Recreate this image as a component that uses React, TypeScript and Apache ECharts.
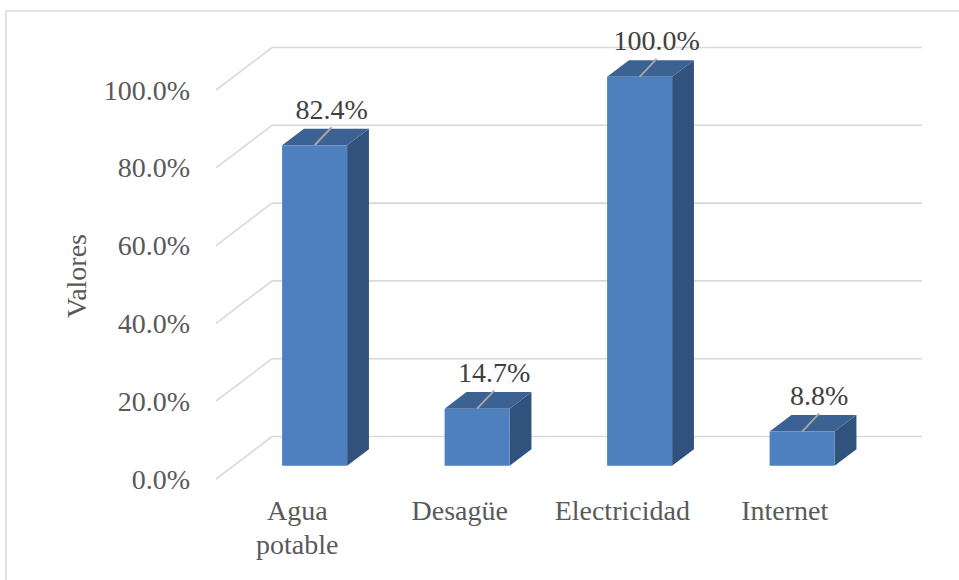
import React, { useEffect, useRef } from "react";
import * as echarts from "echarts";

// Service coverage shares (fraction of households)
const categories = ["Agua\npotable", "Desagüe", "Electricidad", "Internet"];
const values = [0.824, 0.147, 1.0, 0.088];
const gridTicks = [0, 0.2, 0.4, 0.6, 0.8, 1.0];
const axisTitle = "Valores";

// Oblique depth of the 3D floor/walls (pixels)
const DEPTH_X = 56;
const DEPTH_Y = -42.5;
// Bar sits between these fractions of the floor depth
const BAR_F0 = 0.31;
const BAR_F1 = 0.7;

const FONT = "Liberation Serif";

export default function App() {
  const ref = useRef<HTMLDivElement>(null);

  useEffect(() => {
    document.body.style.margin = "0";
    const chart = echarts.init(ref.current!, null, { renderer: "svg" });

    const wallSeries = {
      type: "custom",
      z: 1,
      silent: true,
      data: gridTicks.map((v) => [0, v]),
      renderItem: (params: any, api: any) => {
        const cs = params.coordSys;
        const y = api.coord([0, api.value(1)])[1];
        const style = { stroke: "#d9d9d9", lineWidth: 1.6, fill: "none" };
        return {
          type: "group",
          children: [
            {
              type: "line",
              shape: { x1: cs.x, y1: y, x2: cs.x + DEPTH_X, y2: y + DEPTH_Y },
              style,
            },
            {
              type: "line",
              shape: {
                x1: cs.x + DEPTH_X,
                y1: y + DEPTH_Y,
                x2: cs.x + cs.width + DEPTH_X,
                y2: y + DEPTH_Y,
              },
              style,
            },
          ],
        };
      },
    };

    const barSeries = {
      type: "custom",
      z: 2,
      data: values.map((v, i) => [i, v]),
      renderItem: (params: any, api: any) => {
        const i = api.value(0);
        const v = api.value(1);
        const top = api.coord([i, v]);
        const base = api.coord([i, 0]);
        const hw = (api.size([1, 0])[0] * 0.4) / 2;
        const ox = BAR_F0 * DEPTH_X;
        const oy = BAR_F0 * DEPTH_Y;
        const dx = (BAR_F1 - BAR_F0) * DEPTH_X;
        const dy = (BAR_F1 - BAR_F0) * DEPTH_Y;
        const xl = top[0] - hw + ox;
        const xr = top[0] + hw + ox;
        const yt = top[1] + oy;
        const yb = base[1] + oy;
        const cx = top[0] + ox;
        const label = (v * 100).toFixed(1) + "%";
        return {
          type: "group",
          children: [
            {
              type: "polygon",
              shape: {
                points: [
                  [xr, yt],
                  [xr + dx, yt + dy],
                  [xr + dx, yb + dy],
                  [xr, yb],
                ],
              },
              style: { fill: "#30527c" },
            },
            {
              type: "polygon",
              shape: {
                points: [
                  [xl, yt],
                  [xl + dx, yt + dy],
                  [xr + dx, yt + dy],
                  [xr, yt],
                ],
              },
              style: { fill: "#3b6292" },
            },
            {
              type: "rect",
              shape: { x: xl, y: yt, width: xr - xl, height: yb - yt },
              style: { fill: "#4e80bf" },
            },
            {
              type: "line",
              shape: { x1: cx, y1: yt, x2: cx + 17, y2: yt - 18 },
              style: { stroke: "#a6a6a6", lineWidth: 2 },
            },
            {
              type: "text",
              x: cx + 17,
              y: yt - 36,
              style: {
                text: label,
                fill: "#404040",
                fontFamily: FONT,
                fontSize: 28,
                align: "center",
                verticalAlign: "middle",
              },
            },
          ],
        };
      },
    };

    chart.setOption({
      animation: false,
      backgroundColor: "#ffffff",
      textStyle: { fontFamily: FONT },
      grid: { left: 216, top: 90, width: 650, height: 389, containLabel: false },
      xAxis: {
        type: "category",
        data: categories,
        axisLine: { show: false },
        axisTick: { show: false },
        splitLine: { show: false },
        axisLabel: {
          interval: 0,
          margin: 14,
          fontFamily: FONT,
          fontSize: 28,
          lineHeight: 34,
          color: "#595959",
        },
      },
      yAxis: {
        type: "value",
        min: 0,
        max: 1,
        interval: 0.2,
        axisLine: { show: false },
        axisTick: { show: false },
        splitLine: { show: false },
        axisLabel: {
          margin: 26,
          fontFamily: FONT,
          fontSize: 28,
          color: "#595959",
          formatter: (v: number) => (v * 100).toFixed(1) + "%",
        },
      },
      graphic: [
        {
          type: "rect",
          silent: true,
          shape: { x: 6, y: 11, width: 1000, height: 600 },
          style: { fill: "none", stroke: "#d9d9d9", lineWidth: 1.5 },
        },
        {
          type: "text",
          x: 76,
          y: 276,
          rotation: Math.PI / 2,
          style: {
            text: axisTitle,
            fill: "#595959",
            fontFamily: FONT,
            fontSize: 28,
            align: "center",
            verticalAlign: "middle",
          },
        },
      ],
      series: [wallSeries, barSeries],
    });

    return () => chart.dispose();
  }, []);

  return <div ref={ref} style={{ width: 959, height: 580 }} />;
}
